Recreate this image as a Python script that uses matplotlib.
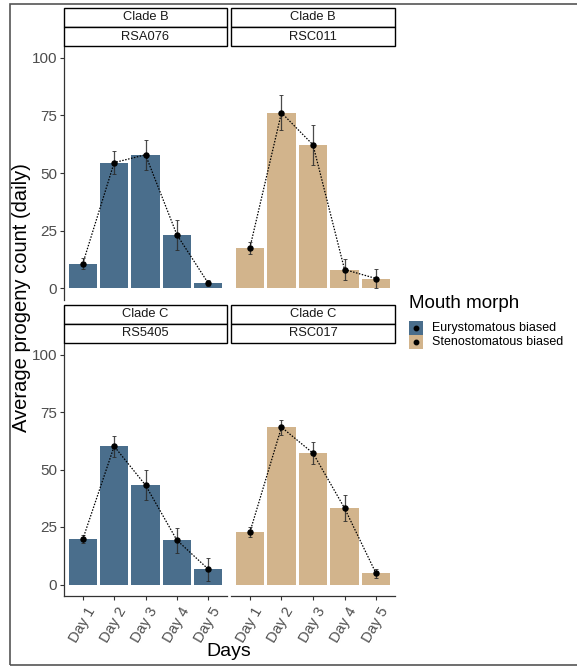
import numpy as np
import matplotlib.pyplot as plt
import matplotlib.transforms as mtransforms
from matplotlib.patches import Rectangle
from matplotlib.lines import Line2D

plt.rcParams['font.family'] = ['Liberation Sans', 'DejaVu Sans']

# progeny counts per strain (mean and standard error per day)
days = ['Day 1', 'Day 2', 'Day 3', 'Day 4', 'Day 5']
clades = ['Clade B', 'Clade B', 'Clade C', 'Clade C']
strains = ['RSA076', 'RSC011', 'RS5405', 'RSC017']
morphs = ['Eurystomatous biased', 'Stenostomatous biased', 'Eurystomatous biased', 'Stenostomatous biased']

rsa076_mean = [10.8, 54.5, 57.9, 23.3, 2.3]
rsa076_se = [2.2, 4.9, 6.5, 6.5, 1.3]
rsc011_mean = [17.7, 76.1, 62.2, 8.2, 4.3]
rsc011_se = [2.6, 7.5, 8.6, 4.6, 4.1]
rs5405_mean = [19.7, 60.1, 43.2, 19.3, 6.7]
rs5405_se = [1.8, 4.5, 6.6, 5.4, 5.0]
rsc017_mean = [22.8, 68.4, 57.1, 33.2, 4.8]
rsc017_se = [2.0, 3.3, 4.7, 5.7, 1.9]

means = [rsa076_mean, rsc011_mean, rs5405_mean, rsc017_mean]
ses = [rsa076_se, rsc011_se, rs5405_se, rsc017_se]

morph_colors = {'Eurystomatous biased': '#4A6E8C', 'Stenostomatous biased': '#D2B48C'}

W, H = 577, 666
fig = plt.figure(figsize=(W / 100, H / 100), dpi=100)


def box(x0, y0, x1, y1):
    # pixel box (top-left origin) -> figure fraction rect
    return [x0 / W, 1 - y1 / H, (x1 - x0) / W, (y1 - y0) / H]


panels = [(64, 46, 227, 300), (231, 46, 395, 300),
          (64, 343, 227, 596), (231, 343, 395, 596)]
strip_rows = [(8, 27, 46), (304.5, 323.5, 343)]

tick_col = '#4D4D4D'
x = np.arange(1, 6)

for i, (x0, y0, x1, y1) in enumerate(panels):
    ax = fig.add_axes(box(x0, y0, x1, y1))
    m = np.array(means[i])
    s = np.array(ses[i])
    ax.bar(x, m, width=0.9, color=morph_colors[morphs[i]], edgecolor='none', zorder=1)
    ax.errorbar(x, m, yerr=s, fmt='none', ecolor='#2b2b2b', elinewidth=0.9,
                capsize=1.6, capthick=0.7, alpha=0.85, zorder=2)
    ax.plot(x, m, ls=(0, (1.2, 1.2)), color='black', lw=0.9, zorder=3)
    ax.plot(x, m, 'o', color='black', ms=3.6, zorder=4)
    ax.set_xlim(0.4, 5.6)
    ax.set_ylim(-5, 105)

    for sp in ax.spines.values():
        sp.set_visible(False)
    left = i % 2 == 0
    bottom = i >= 2
    if left:
        ax.spines['left'].set_visible(True)
        ax.spines['left'].set_color('#333333')
        ax.spines['left'].set_linewidth(0.9)
        ax.set_yticks([0, 25, 50, 75, 100])
        ax.tick_params(axis='y', length=3, width=0.8, color='#333333',
                       labelsize=11, labelcolor=tick_col, pad=2)
    else:
        ax.set_yticks([])
    if bottom:
        ax.spines['bottom'].set_visible(True)
        ax.spines['bottom'].set_color('#333333')
        ax.spines['bottom'].set_linewidth(0.9)
        ax.set_xticks(x)
        ax.set_xticklabels(days, rotation=60, ha='right', va='top',
                           rotation_mode='anchor')
        ax.tick_params(axis='x', length=3, width=0.8, color='#333333',
                       labelsize=10.5, labelcolor=tick_col, pad=3)
        shift = mtransforms.ScaledTranslation(3 / 100, 0, fig.dpi_scale_trans)
        for lab in ax.get_xticklabels():
            lab.set_transform(lab.get_transform() + shift)
    else:
        ax.set_xticks([])

    # facet strips: clade on top, strain underneath
    r0, r1, r2 = strip_rows[i // 2]
    for (ya, yb), label in (((r0, r1), clades[i]), ((r1, r2), strains[i])):
        fig.add_artist(Rectangle((x0 / W, 1 - yb / H), (x1 - x0) / W, (yb - ya) / H,
                                 transform=fig.transFigure, facecolor='white',
                                 edgecolor='black', lw=1.0))
        fig.text((x0 + x1) / 2 / W, 1 - (ya + yb) / 2 / H, label, ha='center',
                 va='center', fontsize=9.3, color='#1A1A1A')

# axis titles
fig.text(22 / W, 1 - 298 / H, 'Average progeny count (daily)', rotation=90,
         ha='center', va='center', fontsize=14.5)
fig.text(229 / W, 1 - 651 / H, 'Days', ha='center', va='center', fontsize=14)

# legend
fig.text(409 / W, 1 - 303 / H, 'Mouth morph', ha='left', va='center', fontsize=13.5)
for k, (name, yk) in enumerate(zip(['Eurystomatous biased', 'Stenostomatous biased'], [321, 335])):
    fig.add_artist(Rectangle((409 / W, 1 - (yk + 14) / H), 14 / W, 14 / H,
                             transform=fig.transFigure, facecolor=morph_colors[name],
                             edgecolor='none'))
    fig.add_artist(Line2D([416 / W], [1 - (yk + 7) / H], marker='o', color='black',
                          ms=3.2, transform=fig.transFigure))
    fig.text(432 / W, 1 - (yk + 7) / H, name, ha='left', va='center', fontsize=9)

# outer frame
fig.add_artist(Rectangle((10 / W, 1 - 664.5 / H), 600 / W, 660.5 / H,
                         transform=fig.transFigure, facecolor='none',
                         edgecolor='#555555', lw=1.2))

fig.savefig('out.png', dpi=100)
